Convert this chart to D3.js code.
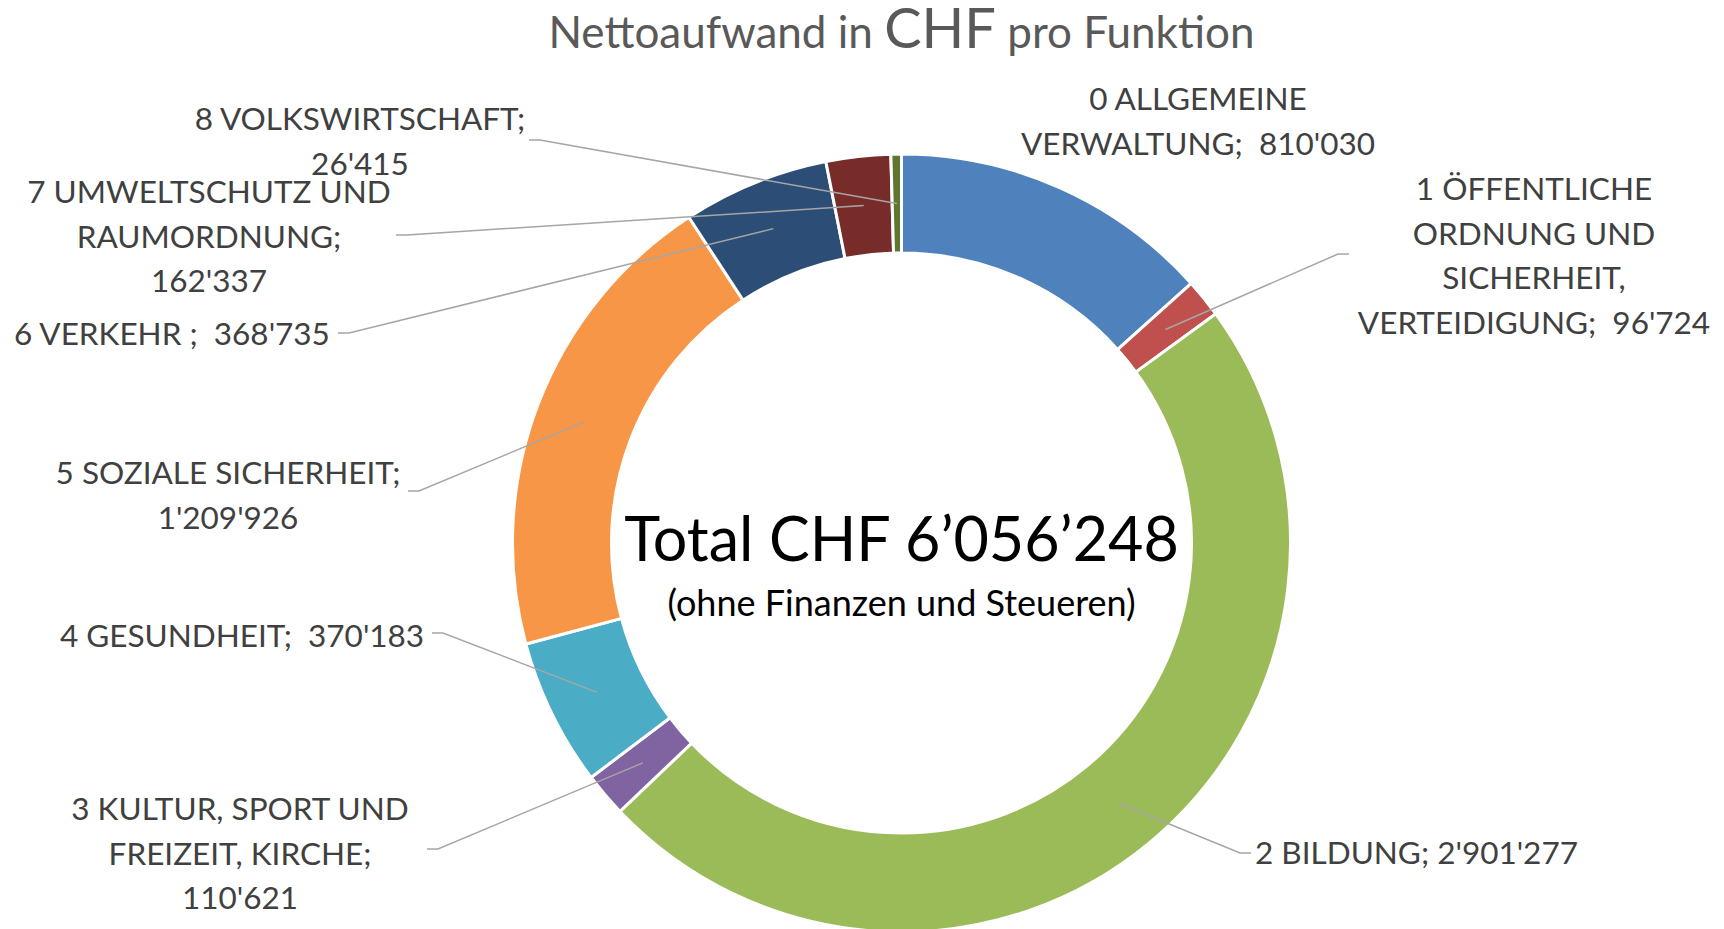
<!DOCTYPE html>
<html><head><meta charset="utf-8">
<script src="https://cdn.jsdelivr.net/npm/d3@7"></script>
<style>
html,body{margin:0;padding:0;background:#fff;}
svg text{white-space:pre;}
</style></head>
<body>
<svg id="chart" width="1724" height="929"></svg>
<script>
const categories = [
  ["0 ALLGEMEINE", "VERWALTUNG;  810'030"],
  ["1 ÖFFENTLICHE", "ORDNUNG UND", "SICHERHEIT,", "VERTEIDIGUNG;  96'724"],
  ["2 BILDUNG; 2'901'277"],
  ["3 KULTUR, SPORT UND", "FREIZEIT, KIRCHE;", "110'621"],
  ["4 GESUNDHEIT;  370'183"],
  ["5 SOZIALE SICHERHEIT;", "1'209'926"],
  ["6 VERKEHR ;  368'735"],
  ["7 UMWELTSCHUTZ UND", "RAUMORDNUNG;", "162'337"],
  ["8 VOLKSWIRTSCHAFT;", "26'415"]
];
const values = [810030, 96724, 2901277, 110621, 370183, 1209926, 368735, 162337, 26415];
const colors = ["#4F81BD", "#C0504D", "#9BBB59", "#8064A2", "#4BACC6", "#F79646", "#2C4D75", "#772C2A", "#5F7530"];
const titleParts = ["Nettoaufwand in ", "CHF", " pro Funktion"];
const centerTitle = "Total CHF 6’056’248";
const centerSub = "(ohne Finanzen und Steueren)";

// layout (label anchor positions, text-anchor, leader start point and stub direction)
const labelLayout = [
  {x:1198, y:99,  anchor:"middle", leader:false},
  {x:1534, y:189, anchor:"middle", leader:true, lx:1349, ly:254, side:-1},
  {x:1255, y:853, anchor:"start",  leader:true, lx:1251, ly:853, side:-1},
  {x:240,  y:809, anchor:"middle", leader:true, lx:427, ly:849, side:1},
  {x:242,  y:636, anchor:"middle", leader:true, lx:432, ly:633, side:1},
  {x:228,  y:473, anchor:"middle", leader:true, lx:408, ly:491, side:1},
  {x:172,  y:334, anchor:"middle", leader:true, lx:338, ly:333, side:1},
  {x:209,  y:192, anchor:"middle", leader:true, lx:396, ly:235, side:1},
  {x:360,  y:119, anchor:"middle", leader:true, lx:529, ly:140, side:1}
];

const svg = d3.select("#chart");
const cx = 901.5, cy = 543;
const rOuter = 389, rInner = 290;
const font = "Lato, 'Open Sans', sans-serif";

const pie = d3.pie().sort(null).value(d => d)(values);
const arc = d3.arc().innerRadius(rInner).outerRadius(rOuter);
const midArc = d3.arc().innerRadius((rInner + rOuter) / 2).outerRadius((rInner + rOuter) / 2);

const g = svg.append("g").attr("transform", `translate(${cx},${cy})`);
g.selectAll("path.slice").data(pie).enter().append("path")
  .attr("class", "slice")
  .attr("d", arc)
  .attr("fill", (d, i) => colors[i])
  .attr("stroke", "#fff")
  .attr("stroke-width", 3)
  .attr("stroke-linejoin", "miter");

// leader lines
pie.forEach((d, i) => {
  const L = labelLayout[i];
  if (!L.leader) return;
  const c = midArc.centroid(d);
  const px = cx + c[0], py = cy + c[1];
  const hx = L.lx + L.side * 11;
  svg.append("polyline")
    .attr("points", `${L.lx},${L.ly} ${hx},${L.ly} ${px},${py}`)
    .attr("fill", "none")
    .attr("stroke", "#A6A6A6")
    .attr("stroke-width", 1.5);
});

// labels
const lineH = 44.5;
categories.forEach((lines, i) => {
  const L = labelLayout[i];
  const t = svg.append("text")
    .attr("text-anchor", L.anchor)
    .attr("font-family", font)
    .attr("font-size", 31.5)
    .attr("fill", "#404040");
  lines.forEach((ln, j) => {
    t.append("tspan").attr("x", L.x).attr("y", L.y + j * lineH + 11).text(ln);
  });
});

// title
const tt = svg.append("text")
  .attr("x", cx).attr("y", 48)
  .attr("text-anchor", "middle")
  .attr("font-family", font)
  .attr("fill", "#595959")
  .attr("font-size", 44);
tt.append("tspan").text(titleParts[0]);
tt.append("tspan").attr("font-size", 56).text(titleParts[1]);
tt.append("tspan").text(titleParts[2]);

// center
svg.append("text").attr("x", cx).attr("y", 561)
  .attr("text-anchor", "middle").attr("font-family", font)
  .attr("font-size", 61).attr("fill", "#000").text(centerTitle);
svg.append("text").attr("x", cx).attr("y", 616)
  .attr("text-anchor", "middle").attr("font-family", font)
  .attr("font-size", 36).attr("fill", "#000").text(centerSub);
</script>
</body></html>
